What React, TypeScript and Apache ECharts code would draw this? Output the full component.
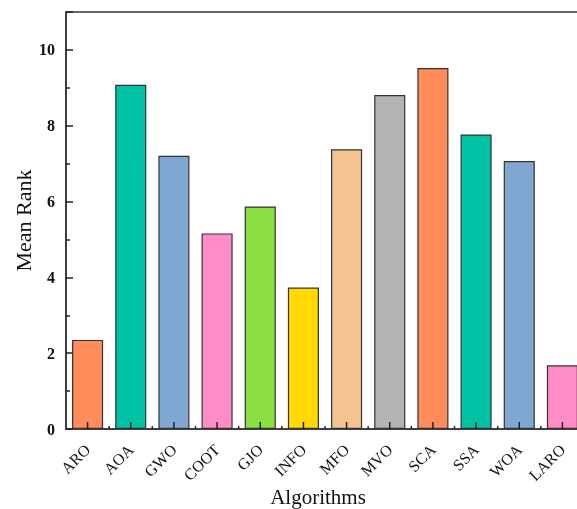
import React, { useEffect, useRef } from "react";
import * as echarts from "echarts";

const categories = ["ARO", "AOA", "GWO", "COOT", "GJO", "INFO", "MFO", "MVO", "SCA", "SSA", "WOA", "LARO"];
const meanRank = [2.35, 9.08, 7.21, 5.16, 5.87, 3.73, 7.38, 8.81, 9.52, 7.77, 7.07, 1.68];
const barColors = ["#FF8C5A", "#00C2A5", "#80A7D1", "#FF8CC6", "#8BDF42", "#FFD900", "#F3C48F", "#B3B3B3", "#FF8C5A", "#00C2A5", "#80A7D1", "#FF8CC6"];
const xTitle = "Algorithms";
const yTitle = "Mean Rank";
const yMin = 0;
const yMax = 11;
const yInterval = 2;

const FONT = "'Liberation Serif', 'Times New Roman', serif";

export default function App() {
  const ref = useRef<HTMLDivElement>(null);
  useEffect(() => {
    if (!ref.current) return;
    const chart = echarts.init(ref.current, undefined, { renderer: "svg" });
    chart.setOption({
      animation: false,
      grid: {
        left: 66,
        top: 12,
        right: -7,
        bottom: 80,
        outerBoundsMode: "none",
        show: true,
        borderColor: "#333",
        borderWidth: 1.5,
        backgroundColor: "transparent",
      },
      graphic: [
        {
          type: "text",
          x: 318,
          y: 497,
          style: { text: xTitle, fontFamily: FONT, fontSize: 21, fill: "#111", textAlign: "center", textVerticalAlign: "middle" },
        },
      ],
      xAxis: {
        type: "category",
        data: categories,
        axisLine: { show: true, lineStyle: { color: "#333", width: 1.5 } },
        axisTick: { show: false },
        axisLabel: { rotate: 45, fontFamily: FONT, fontSize: 16, color: "#111", interval: 0, margin: 18 },
      },
      yAxis: {
        type: "value",
        min: yMin,
        max: yMax,
        interval: yInterval,
        name: yTitle,
        nameLocation: "middle",
        nameGap: 32,
        nameMoveOverlap: false,
        nameTextStyle: { fontFamily: FONT, fontSize: 22, color: "#111" },
        axisLine: { show: true, lineStyle: { color: "#333", width: 1.5 } },
        axisTick: { show: true, inside: true, length: 7, lineStyle: { color: "#222", width: 1.5 } },
        minorTick: { show: true, splitNumber: 2, length: 4, lineStyle: { color: "#222", width: 1.5 } },
        axisLabel: { fontFamily: FONT, fontSize: 16, fontWeight: "bold", color: "#111", margin: 11, showMaxLabel: false },
        splitLine: { show: false },
        minorSplitLine: { show: false },
      },
      series: [
        {
          type: "bar",
          barWidth: "72%",
          data: meanRank.map((v, i) => ({
            value: v,
            itemStyle: { color: barColors[i], borderColor: "#333", borderWidth: 1.2 },
          })),
        },
        {
          type: "custom",
          silent: true,
          clip: false,
          z: 5,
          encode: { x: 0, y: 1 },
          data: categories.map((c, i) => [i, 0]),
          renderItem: (params: any, api: any) => {
            const idx = api.value(0);
            const p = api.coord([idx, 0]);
            const w = api.size([1, 0])[0];
            const style = { stroke: "#222", lineWidth: 1.5 };
            const children: any[] = [
              { type: "line", shape: { x1: p[0], y1: p[1], x2: p[0], y2: p[1] - 7 }, style },
              { type: "line", shape: { x1: p[0] + w / 2, y1: p[1], x2: p[0] + w / 2, y2: p[1] - 3 }, style },
            ];
            return { type: "group", children };
          },
        },
      ],
    });
    return () => chart.dispose();
  }, []);
  return <div ref={ref} style={{ position: "fixed", left: 0, top: 0, width: 577, height: 509 }} />;
}
